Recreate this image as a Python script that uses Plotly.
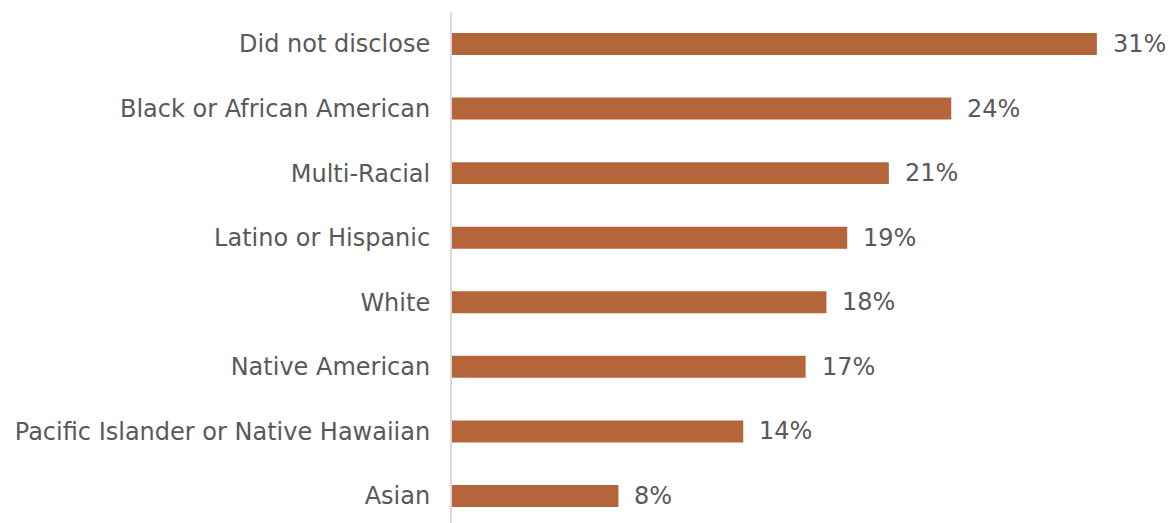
import plotly.graph_objects as go

# Share of respondents by race / ethnicity
categories = [
    "Did not disclose",
    "Black or African American",
    "Multi-Racial",
    "Latino or Hispanic",
    "White",
    "Native American",
    "Pacific Islander or Native Hawaiian",
    "Asian",
]
values = [31, 24, 21, 19, 18, 17, 14, 8]

BAR_COLOR = "#B5653A"
TEXT_COLOR = "#595959"
FONT = "DejaVu Sans, Verdana, sans-serif"
FONT_SIZE = 24

fig = go.Figure(
    go.Bar(
        x=values,
        y=categories,
        orientation="h",
        marker=dict(color=BAR_COLOR, line=dict(width=0)),
        width=0.34,
        hoverinfo="skip",
    )
)

for cat, val in zip(categories, values):
    fig.add_annotation(
        x=val, y=cat, text=f"{val}%", showarrow=False,
        xanchor="left", yanchor="middle", xshift=14,
        font=dict(family=FONT, size=FONT_SIZE, color=TEXT_COLOR),
    )

fig.update_layout(
    width=1173,
    height=523,
    margin=dict(l=452, r=0, t=12, b=0),
    paper_bgcolor="white",
    plot_bgcolor="white",
    showlegend=False,
    font=dict(family=FONT, size=FONT_SIZE, color=TEXT_COLOR),
)
fig.update_xaxes(
    range=[0, 34.66], visible=False, showgrid=False, zeroline=False,
)
fig.update_yaxes(
    type="category",
    categoryorder="array",
    categoryarray=categories,
    range=[7.418, -0.495],
    showline=True,
    linecolor="#D9D9D9",
    linewidth=2,
    showgrid=False,
    zeroline=False,
    ticks="",
    ticklabelstandoff=15,
    tickfont=dict(family=FONT, size=FONT_SIZE, color=TEXT_COLOR),
)

fig.write_html("out.html")
